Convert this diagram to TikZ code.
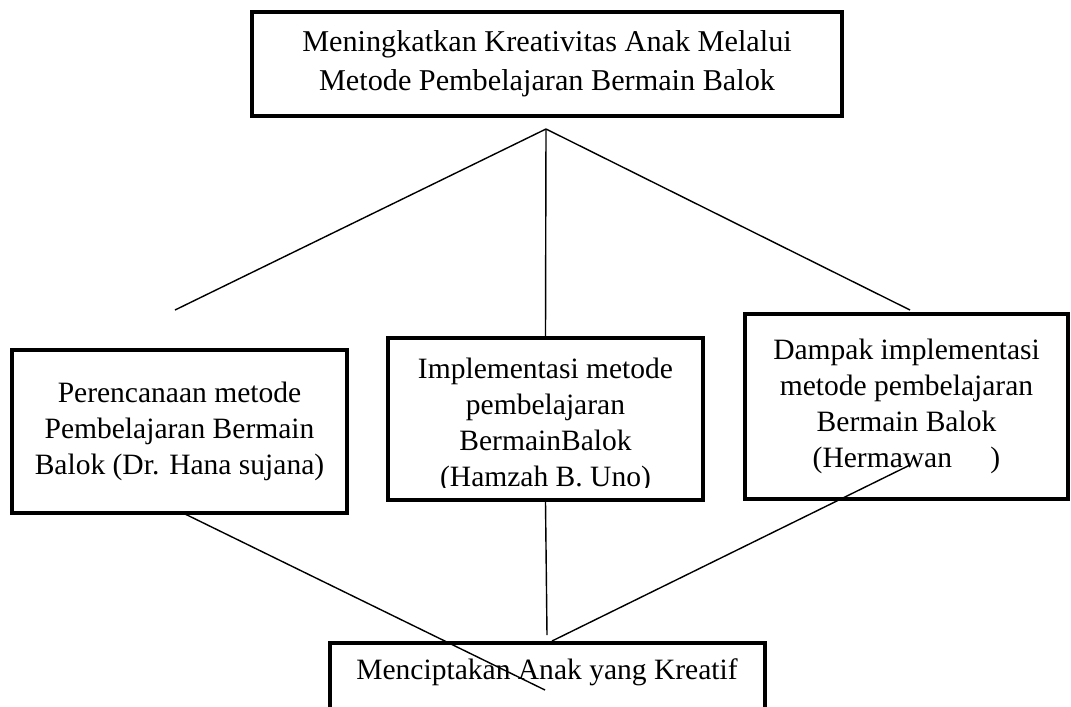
\documentclass[tikz,border=0pt]{standalone}
\usepackage{fontspec}
\setmainfont{Liberation Serif}
\usetikzlibrary{positioning}

\begin{document}
\begin{tikzpicture}[x=0.025cm, y=-0.025cm, line width=1pt]
		\useasboundingbox (0,0) rectangle (1071,706);
		\tikzset{kotak/.style={draw, line width=3pt, inner sep=0pt},
			teks/.style={align=center, inner sep=0pt, font=\fontsize{21}{25.6}\selectfont}}
		\begin{scope}[every node/.style={kotak, teks}]
			\node[minimum width=14.75cm, minimum height=2.6cm, font=\fontsize{21.5}{27.5}\selectfont] (judul) at(547,64) {Meningkatkan Kreativitas Anak Melalui\\Metode Pembelajaran Bermain Balok};
			\node[minimum width=8.375cm, minimum height=4.075cm] (rencana) at(179.5,431.5) {Perencanaan metode\\Pembelajaran Bermain\\Balok (Dr. Hana sujana)};
			\node[minimum width=7.875cm, minimum height=4.05cm] (impl) at(545.5,419) {};
			\node[minimum width=8.075cm, minimum height=4.625cm] (dampak) at(906.5,406.5) {Dampak implementasi\\metode pembelajaran\\Bermain Balok\\(Hermawan\hspace{1.3em})};
			\node[minimum width=10.875cm, minimum height=2.3cm] (hasil) at(547.5,689) {};
		\end{scope}
		\begin{scope}
			\clip (390,340) rectangle (701,487);
			\node[teks] (implTeks) at(545.5,425) {Implementasi metode\\pembelajaran\\BermainBalok\\(Hamzah B. Uno)};
		\end{scope}
		\node[teks] (hasilTeks) at(547,672) {Menciptakan Anak yang Kreatif};
		% ujung garis yang lepas
		\coordinate (puncak) at(546,129);
		\coordinate (ujungKiri) at(175,310);
		\coordinate (ujungKanan) at(910,310);
		\coordinate (awalKiri) at(183,513);
		\coordinate (awalKanan) at(910,465);
		\coordinate (ujungBawah) at(545,690);
		\coordinate (temuTengah) at(547,635);
		\coordinate (temuKanan) at(552,641);
		\begin{scope}
			\path (puncak) edge (ujungKiri);
			\path (puncak) edge (impl.north);
			\path (puncak) edge (ujungKanan);
			\path (awalKiri) edge (ujungBawah);
			\path (impl.south) edge (temuTengah);
			\path (awalKanan) edge (temuKanan);
		\end{scope}
	\end{tikzpicture}
\end{document}
